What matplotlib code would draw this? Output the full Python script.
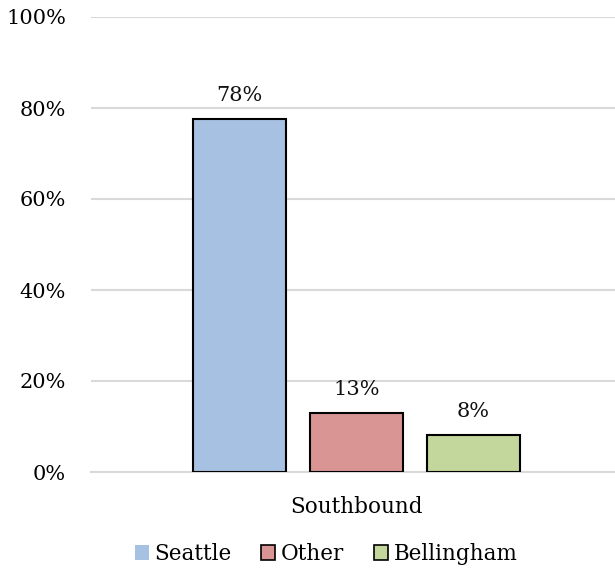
import matplotlib
matplotlib.use("Agg")
import matplotlib.pyplot as plt
from matplotlib.patches import Patch

categories = ["Southbound"]
series_names = ["Seattle", "Other", "Bellingham"]
values = [78, 13, 8]
bar_heights = [77.6, 13.0, 8.1]
colors = ["#a7c1e2", "#d99594", "#c3d69b"]
yticks = [0, 20, 40, 60, 80, 100]
ytick_labels = ["0%", "20%", "40%", "60%", "80%", "100%"]

plt.rcParams['font.family'] = ['DejaVu Serif']
FS = 15
FS2 = 15.5
W, H = 615, 573
fig = plt.figure(figsize=(W/100, H/100), dpi=100)
ax = fig.add_axes([91/W, (H-472)/H, (615-91)/W, (472-17)/H])

bw = 93/524
step = 117/524
center = 0.0
for i, (h, v, c) in enumerate(zip(bar_heights, values, colors)):
    x = center + (i-1)*step
    ax.bar(x, h, width=bw, color=c, edgecolor="black", linewidth=1.5, zorder=3)
    ax.text(x, h + 3.0, f"{v}%", ha="center", va="bottom", fontsize=FS, color="#111111")

ax.set_xlim(-0.5067, 0.4933)
ax.set_ylim(0, 100)
ax.set_yticks(yticks)
ax.set_yticklabels(ytick_labels, fontsize=FS)
ax.set_xticks([0])
ax.set_xticklabels(categories, fontsize=FS2)
ax.tick_params(axis='y', length=0, pad=18)
ax.tick_params(axis='x', length=0, pad=17)
ax.grid(axis='y', color="#d9d9d9", linewidth=1.5, zorder=0)
for s in ["top", "right", "left"]:
    ax.spines[s].set_visible(False)
ax.spines["bottom"].set_color("#d9d9d9")
ax.spines["bottom"].set_linewidth(1.5)

handles = [Patch(facecolor=colors[0], edgecolor="none"),
           Patch(facecolor=colors[1], edgecolor="black", linewidth=1.2),
           Patch(facecolor=colors[2], edgecolor="black", linewidth=1.2)]
fig.legend(handles, series_names, loc="center", bbox_to_anchor=(326/W, 1-554/H),
           ncol=3, frameon=False, fontsize=FS2, handlelength=0.65, handleheight=0.65,
           handletextpad=0.25, columnspacing=1.4)

fig.savefig("out.png", dpi=100)
